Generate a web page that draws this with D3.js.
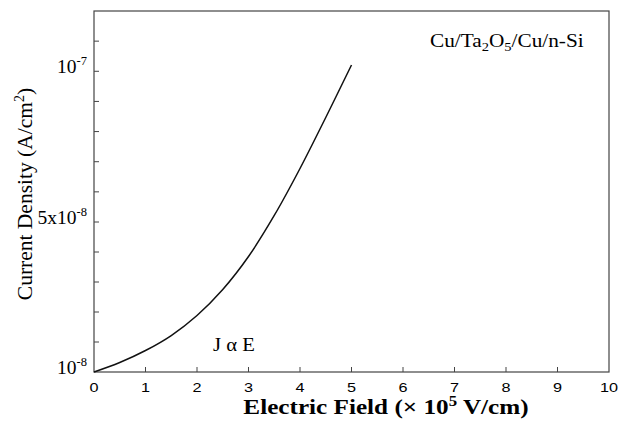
<!DOCTYPE html>
<html><head><meta charset="utf-8">
<script src="https://cdn.jsdelivr.net/npm/d3@7"></script>
<style>body{margin:0;background:#fff}svg{display:block}</style>
</head><body>
<svg id="c" width="627" height="421"></svg>
<script>
// Data
const fieldValues = [0, 0.5, 1, 1.5, 2, 2.5, 3, 3.5, 4, 4.5, 5];
const currentDensity = [1.0e-8, 1.253e-8, 1.573e-8, 1.973e-8, 2.507e-8, 3.2e-8, 4.08e-8, 5.216e-8, 6.775e-8, 8.467e-8, 1.021e-7];
const xTicks = [0,1,2,3,4,5,6,7,8,9,10];
const yTickMarks = [1e-8,1.8e-8,2.6e-8,3.4e-8,4.2e-8,5e-8,6e-8,7e-8,8e-8,9e-8,1e-7,1.1e-7];
const yLabelValues = [1e-8, 5e-8, 1e-7];
const yLabelBase = ["10", "5x10", "10"];
const yLabelSup = ["-8", "-8", "-7"];

const svg = d3.select("#c");
const L = 94, R = 609, T = 11, B = 372;
const x = d3.scaleLinear().domain([0,10]).range([L,R]);
const y = d3.scaleLinear().domain([1e-8,5e-8,1.2e-7]).range([B,222,T]);
const axisColor = "#444";
const serif = "Liberation Serif, Times New Roman, serif";
const sans = "Liberation Sans, Arial, sans-serif";

// frame
svg.append("rect").attr("x",L).attr("y",T).attr("width",R-L).attr("height",B-T)
  .attr("fill","none").attr("stroke",axisColor).attr("stroke-width",1.2);

// x ticks (inward)
svg.selectAll("line.xt").data(xTicks.slice(1,-1)).enter().append("line")
  .attr("x1",d=>x(d)).attr("x2",d=>x(d)).attr("y1",B).attr("y2",B-5)
  .attr("stroke",axisColor).attr("stroke-width",1);
svg.selectAll("text.xl").data(xTicks).enter().append("text")
  .attr("transform",d=>`translate(${x(d)},${B+20}) scale(1.3,1)`).attr("text-anchor","middle")
  .attr("font-family",sans).attr("font-size",12.5)
  .text(d=>d);

// y ticks (inward)
svg.selectAll("line.yt").data(yTickMarks.slice(1)).enter().append("line")
  .attr("x1",L).attr("x2",L+5).attr("y1",d=>y(d)).attr("y2",d=>y(d))
  .attr("stroke",axisColor).attr("stroke-width",1);
const yl = svg.selectAll("text.yl").data(yLabelValues).enter().append("text")
  .attr("transform",d=>`translate(${L-7},${y(d)+2})`).attr("text-anchor","end")
  .attr("font-family",serif).attr("font-size",19.5);
yl.append("tspan").text((d,i)=>yLabelBase[i]);
yl.append("tspan").attr("dy",-8).attr("font-size",12.5).text((d,i)=>yLabelSup[i]);

// curve
const line = d3.line().x((d,i)=>x(fieldValues[i])).y(d=>y(d)).curve(d3.curveCatmullRom);
svg.append("path").datum(currentDensity).attr("d",line)
  .attr("fill","none").attr("stroke","#111").attr("stroke-width",1.5);

// annotations
const a1 = svg.append("text").attr("transform","translate(430,47) scale(1.12,1)")
  .attr("font-family",serif).attr("font-size",19);
a1.append("tspan").text("Cu/Ta");
a1.append("tspan").attr("dy",4).attr("font-size",13).text("2");
a1.append("tspan").attr("dy",-4).text("O");
a1.append("tspan").attr("dy",4).attr("font-size",13).text("5");
a1.append("tspan").attr("dy",-4).text("/Cu/n-Si");

svg.append("text").attr("transform","translate(213,351) scale(1.06,1)")
  .attr("font-family",serif).attr("font-size",19.5).text("J \u03b1 E");

// axis titles
const xt = svg.append("text").attr("transform","translate(386,414) scale(1.2,1)").attr("text-anchor","middle")
  .attr("font-family",serif).attr("font-size",21).attr("font-weight","bold");
xt.append("tspan").text("Electric Field (\u00d7 10");
xt.append("tspan").attr("dy",-8).attr("font-size",14).text("5");
xt.append("tspan").attr("dy",8).text(" V/cm)");

const yt = svg.append("text").attr("transform","translate(32,194) rotate(-90)").attr("text-anchor","middle")
  .attr("font-family",serif).attr("font-size",21.5);
yt.append("tspan").text("Current Density (A/cm");
yt.append("tspan").attr("dy",-8).attr("font-size",14).text("2");
yt.append("tspan").attr("dy",8).text(")");
</script>
</body></html>
